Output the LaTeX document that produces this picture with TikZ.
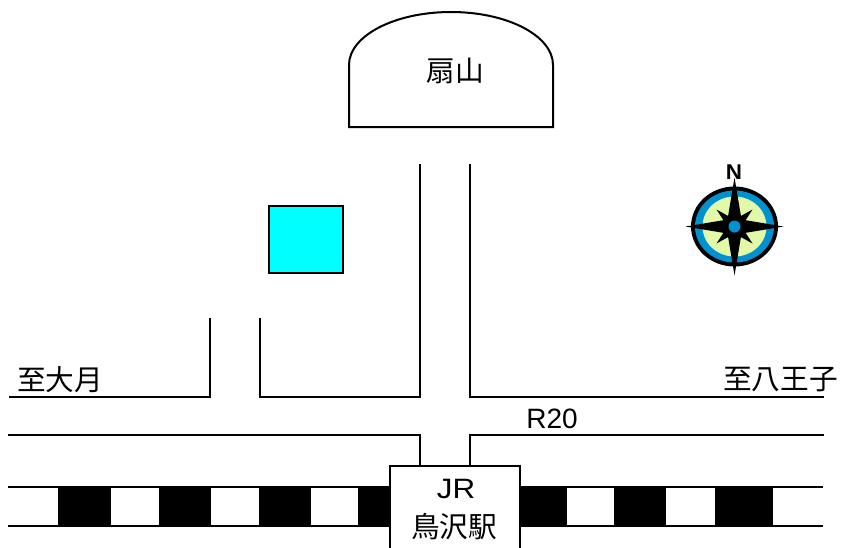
\documentclass[tikz,border=0pt]{standalone}
\usepackage{fontspec}
\setmainfont{Liberation Sans}
\newfontfamily\jpfont{Noto Sans CJK JP}
\definecolor{compassblue}{RGB}{0,146,208}
\definecolor{compassgreen}{RGB}{226,250,168}
\definecolor{roomcyan}{RGB}{0,255,255}
\tikzset{
  maplabel/.style={inner sep=0pt,font=\fontsize{21.5pt}{24pt}\selectfont\jpfont},
  latinlabel/.style={inner sep=0pt,font=\fontsize{21pt}{24pt}\selectfont},
  mapline/.style={line width=1.5pt,line cap=rect},
  thin line/.style={line width=1.1pt}
}
\begin{document}
\begin{tikzpicture}[x=0.75pt,y=-0.75pt]
\useasboundingbox (0,0) rectangle (841,547);
\fill[white] (0,0) rectangle (841,547);
% rails
\draw[thin line] (8,487) -- (823,487);
\draw[thin line] (8,526) -- (823,526);
\foreach \a/\b in {58/111,159/211,259/311,358/390,520/567,614/666,715/773}
  \fill[black] (\a,486) rectangle (\b,527);
% roads
\draw[mapline] (10,397) -- (210,397) -- (210,319);
\draw[mapline] (260,319) -- (260,397) -- (420,397) -- (420,165);
\draw[mapline] (470,165) -- (470,397) -- (823,397);
\draw[mapline] (9,435) -- (420,435) -- (420,465);
\draw[mapline] (823,435) -- (470,435) -- (470,465);
% station
\draw[mapline,fill=white] (390,547) -- (390,465.5) -- (520,465.5) -- (520,547);
\node[latinlabel,xscale=1.12] (jr) at (456,489) {JR};
\node[maplabel] (station) at (454,527) {鳥沢駅};
% mountain
\draw[mapline,fill=white] (349,127) -- (349,65) arc[start angle=180,end angle=360,x radius=102,y radius=53] -- (553,127) -- cycle;
\node[maplabel] (mountain) at (455,71) {扇山};
% building
\draw[line width=1.2pt,fill=roomcyan] (269,206) rectangle (343,273);
% labels
\node[maplabel] (tsuru) at (60,380) {至大月};
\node[maplabel] (hachi) at (780.5,380) {至八王子};
\node[latinlabel] (r20) at (552,419) {R20};
% compass
\begin{scope}[shift={(734.5,226.5)}]
  \fill[black] (0,0) ellipse[x radius=43.5,y radius=40];
  \fill[compassblue] (0,0) ellipse[x radius=39.5,y radius=36];
  \fill[compassgreen] (0,0) ellipse[x radius=32,y radius=30];
  \fill[black] (-18,-17) -- (0,-7) -- (18,-17) -- (7,0) -- (18,17) -- (0,7) -- (-18,17) -- (-7,0) -- cycle;
  \fill[black] (0,-49) -- (7,-7) -- (49,0) -- (7,7) -- (0,49) -- (-7,7) -- (-49,0) -- (-7,-7) -- cycle;
  \fill[compassblue] (0,0) circle[radius=6];
\end{scope}
\node[inner sep=0pt,xscale=1.05,font=\fontsize{16pt}{16pt}\selectfont\bfseries] (north) at (734,172.5) {N};
\end{tikzpicture}
\end{document}
